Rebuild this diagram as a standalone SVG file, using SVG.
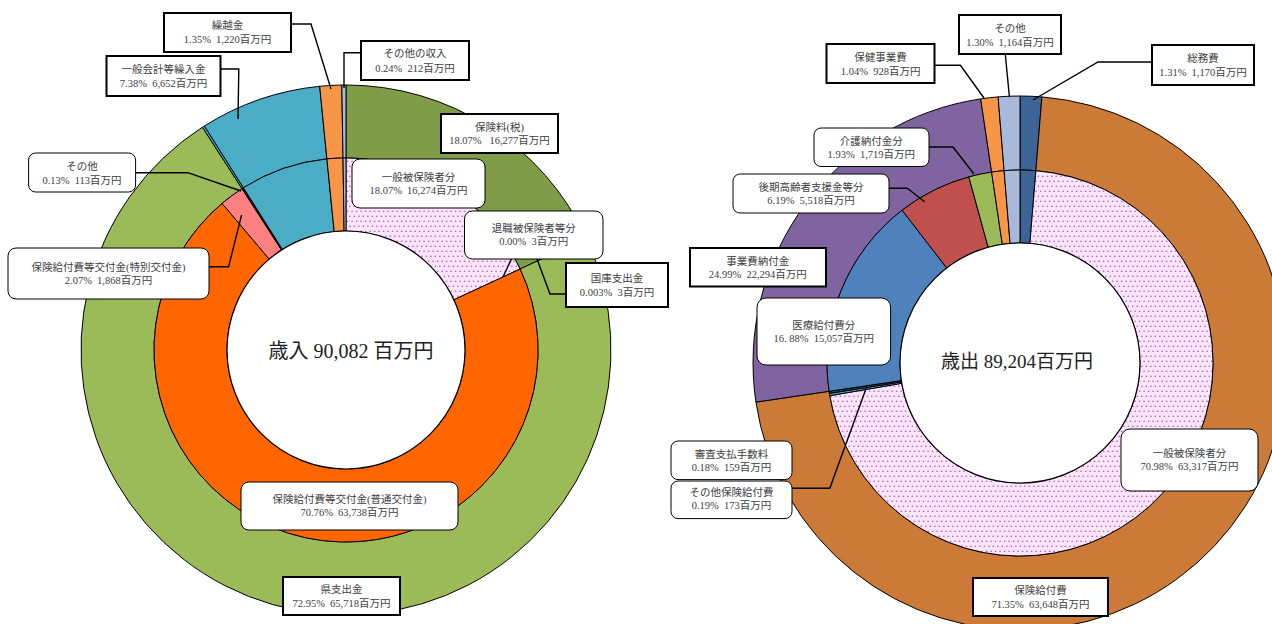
<svg xmlns="http://www.w3.org/2000/svg" width="1272" height="624" viewBox="0 0 1272 624">
<defs>
<pattern id="dots" patternUnits="userSpaceOnUse" width="9" height="10">
<rect width="9" height="10" fill="#FCE4FC"/>
<circle cx="1.1" cy="1.25" r="0.85" fill="#B070B0"/>
<circle cx="5.6" cy="1.25" r="0.85" fill="#B070B0"/>
<circle cx="3.35" cy="6.25" r="0.85" fill="#B070B0"/>
<circle cx="7.85" cy="6.25" r="0.85" fill="#B070B0"/>
</pattern>
<style>
.seg{stroke:#000;stroke-width:1;stroke-linejoin:round}
.hole{fill:#fff;stroke:#000;stroke-width:1.2}
.sq{fill:#fff;stroke:#000;stroke-width:2}
.rd{fill:#fff;stroke:#000;stroke-width:1}
.ld{fill:none;stroke:#000;stroke-width:1.4}
text{font-family:"Liberation Serif","Noto Sans CJK JP",serif;fill:#404040;text-anchor:middle}
.lb{font-size:10.5px}
.ct{font-size:20px;fill:#222}
</style>
</defs>

<g id="revenue-chart">
<g id="rev-outer">
<path class="seg" fill="#7F9C48" d="M346,85 A265,265 0 0 1 586.3,238.2 L520.1,269.0 A192,192 0 0 0 346,158 Z"/>
<path class="seg" fill="#9BBB59" d="M586.3,238.2 A265,265 0 1 1 202.4,127.2 L242.0,188.6 A192,192 0 1 0 520.1,269.0 Z"/>
<path class="seg" fill="#4BACC6" d="M202.4,127.2 A265,265 0 0 1 204.4,126.0 L243.4,187.7 A192,192 0 0 0 242.0,188.6 Z"/>
<path class="seg" fill="#4BACC6" d="M204.4,126.0 A265,265 0 0 1 319.7,86.3 L326.9,158.9 A192,192 0 0 0 243.4,187.7 Z"/>
<path class="seg" fill="#F79646" d="M319.7,86.3 A265,265 0 0 1 341.8,85.0 L343.0,158.0 A192,192 0 0 0 326.9,158.9 Z"/>
<path class="seg" fill="#A9BADB" d="M341.8,85.0 A265,265 0 0 1 346,85 L346,158 A192,192 0 0 0 343.0,158.0 Z"/>
</g>
<g id="rev-inner">
<path class="seg" fill="url(#dots)" d="M346,158 A192,192 0 0 1 520.1,269.0 L453.9,299.8 A119,119 0 0 0 346,231 Z"/>
<path class="seg" fill="#FF6600" d="M520.1,269.0 A192,192 0 1 1 222.1,203.4 L269.2,259.1 A119,119 0 1 0 453.9,299.8 Z"/>
<path class="seg" fill="#FF8080" d="M222.1,203.4 A192,192 0 0 1 242.0,188.6 L281.5,250.0 A119,119 0 0 0 269.2,259.1 Z"/>
<path class="seg" fill="#111" d="M242.0,188.6 A192,192 0 0 1 243.4,187.7 L282.4,249.4 A119,119 0 0 0 281.5,250.0 Z"/>
<path class="seg" fill="#4BACC6" d="M243.4,187.7 A192,192 0 0 1 326.9,158.9 L334.2,231.6 A119,119 0 0 0 282.4,249.4 Z"/>
<path class="seg" fill="#F79646" d="M326.9,158.9 A192,192 0 0 1 343.0,158.0 L344.1,231.0 A119,119 0 0 0 334.2,231.6 Z"/>
<path class="seg" fill="#A9BADB" d="M343.0,158.0 A192,192 0 0 1 346,158 L346,231 A119,119 0 0 0 344.1,231.0 Z"/>
</g>
<circle class="hole" cx="346" cy="350" r="119"/>
<text class="ct" x="351" y="357.5">歳入 90,082 百万円</text>
</g>

<g id="expense-chart">
<g id="exp-outer">
<path class="seg" fill="#3C6496" d="M1020,96 A267,267 0 0 1 1041.9,96.9 L1035.9,170.7 A193,193 0 0 0 1020,170 Z"/>
<path class="seg" fill="#CC7A37" d="M1041.9,96.9 A267,267 0 1 1 755.9,402.1 L829.1,391.3 A193,193 0 1 0 1035.9,170.7 Z"/>
<path class="seg" fill="#8064A2" d="M755.9,402.1 A267,267 0 0 1 980.7,98.9 L991.6,172.1 A193,193 0 0 0 829.1,391.3 Z"/>
<path class="seg" fill="#F79646" d="M980.7,98.9 A267,267 0 0 1 998.1,96.9 L1004.1,170.7 A193,193 0 0 0 991.6,172.1 Z"/>
<path class="seg" fill="#A9B9DA" d="M998.1,96.9 A267,267 0 0 1 1020,96 L1020,170 A193,193 0 0 0 1004.1,170.7 Z"/>
</g>
<g id="exp-inner">
<path class="seg" fill="#3C6496" d="M1020,170 A193,193 0 0 1 1035.9,170.7 L1029.9,243.4 A120,120 0 0 0 1020,243 Z"/>
<path class="seg" fill="url(#dots)" d="M1035.9,170.7 A193,193 0 1 1 829.8,395.7 L901.7,383.3 A120,120 0 1 0 1029.9,243.4 Z"/>
<path class="seg" fill="#4BACC6" d="M829.8,395.7 A193,193 0 0 1 829.4,393.4 L901.5,381.9 A120,120 0 0 0 901.7,383.3 Z"/>
<path class="seg" fill="#1F497D" d="M829.4,393.4 A193,193 0 0 1 829.1,391.3 L901.3,380.6 A120,120 0 0 0 901.5,381.9 Z"/>
<path class="seg" fill="#4F81BD" d="M829.1,391.3 A193,193 0 0 1 902.1,210.2 L946.7,268.0 A120,120 0 0 0 901.3,380.6 Z"/>
<path class="seg" fill="#C0504D" d="M902.1,210.2 A193,193 0 0 1 968.8,176.9 L988.2,247.3 A120,120 0 0 0 946.7,268.0 Z"/>
<path class="seg" fill="#9BBB59" d="M968.8,176.9 A193,193 0 0 1 991.6,172.1 L1002.3,244.3 A120,120 0 0 0 988.2,247.3 Z"/>
<path class="seg" fill="#F79646" d="M991.6,172.1 A193,193 0 0 1 1004.1,170.7 L1010.1,243.4 A120,120 0 0 0 1002.3,244.3 Z"/>
<path class="seg" fill="#A9B9DA" d="M1004.1,170.7 A193,193 0 0 1 1020,170 L1020,243 A120,120 0 0 0 1010.1,243.4 Z"/>
</g>
<circle class="hole" cx="1020" cy="363" r="120"/>
<text class="ct" x="1017" y="368" style="font-size:19px">歳出 89,204百万円</text>
</g>

<g id="connectors">
<polyline class="ld" points="291,24 311,24 331,89"/>
<polyline class="ld" points="361,52.7 344,52.7 344,88"/>
<polyline class="ld" points="220.8,69 238.8,69 238,119"/>
<polyline class="ld" points="135.5,172.7 187.8,172.7 241,191"/>
<polyline class="ld" points="512,258 503,277"/>
<polyline class="ld" points="566,294 550,294 537,259"/>
<polyline class="ld" points="209,266.7 228.6,266.7 241.6,215"/>
<polyline class="ld" points="934.7,65.3 960.4,65.3 984,98"/>
<polyline class="ld" points="1005.3,54.3 1009.4,96.7"/>
<polyline class="ld" points="1152,62 1098,62 1033,100"/>
<polyline class="ld" points="928.6,147 953,147 974,174"/>
<polyline class="ld" points="889,188.3 907.3,188.3 924.5,201.7"/>
<polyline class="ld" points="792,488.3 829.8,488.3 867,386"/>
</g>

<g id="lbl-kurikoshi"><rect class="sq" x="164" y="13" width="127" height="39"/><text class="lb" x="227.5" y="28.7">繰越金</text><text class="lb" x="227.5" y="42.7">1.35%&#160; 1,220百万円</text></g>
<g id="lbl-sonota-shunyu"><rect class="sq" x="361" y="41" width="108" height="39"/><text class="lb" x="415" y="57">その他の収入</text><text class="lb" x="415" y="71.5">0.24%&#160; 212百万円</text></g>
<g id="lbl-ippankaikei"><rect class="sq" x="106.5" y="56" width="114" height="40"/><text class="lb" x="163.6" y="72.5">一般会計等繰入金</text><text class="lb" x="163.6" y="86.5">7.38%&#160; 6,652百万円</text></g>
<g id="lbl-hokenryo"><rect class="sq" x="441" y="114" width="117" height="39"/><text class="lb" x="499.5" y="131.4">保険料(税)</text><text class="lb" x="499.5" y="144.4">18.07%&#160;&#160; 16,277百万円</text></g>
<g id="lbl-sonota-l"><rect class="rd" x="28.6" y="153" width="107" height="39" rx="7"/><text class="lb" x="82" y="170.4">その他</text><text class="lb" x="82" y="183.7">0.13%&#160; 113百万円</text></g>
<g id="lbl-ippanhiho-l"><rect class="rd" x="352" y="159" width="133" height="49" rx="8"/><text class="lb" x="418.5" y="181.4">一般被保険者分</text><text class="lb" x="418.5" y="194.4">18.07%&#160; 16,274百万円</text></g>
<g id="lbl-taishoku"><rect class="rd" x="464.5" y="211" width="138.5" height="48" rx="8"/><text class="lb" x="533.7" y="232.4">退職被保険者等分</text><text class="lb" x="533.7" y="245">0.00%&#160; 3百万円</text></g>
<g id="lbl-kokko"><rect class="sq" x="566" y="263" width="102" height="44"/><text class="lb" x="617" y="282.4">国庫支出金</text><text class="lb" x="617" y="296.4">0.003%&#160; 3百万円</text></g>
<g id="lbl-tokubetsu"><rect class="rd" x="8" y="248" width="201" height="51" rx="8"/><text class="lb" x="108.5" y="271.4">保険給付費等交付金(特別交付金)</text><text class="lb" x="108.5" y="284.4">2.07%&#160; 1,868百万円</text></g>
<g id="lbl-futsu"><rect class="rd" x="241" y="482" width="217" height="48" rx="8"/><text class="lb" x="349.5" y="503">保険給付費等交付金(普通交付金)</text><text class="lb" x="349.5" y="516">70.76%&#160; 63,738百万円</text></g>
<g id="lbl-ken"><rect class="sq" x="283" y="577" width="117" height="38"/><text class="lb" x="341.5" y="593">県支出金</text><text class="lb" x="341.5" y="607">72.95%&#160; 65,718百万円</text></g>

<g id="lbl-hokenjigyo"><rect class="sq" x="826.5" y="44" width="108" height="39"/><text class="lb" x="880.6" y="61">保健事業費</text><text class="lb" x="880.6" y="74.7">1.04%&#160; 928百万円</text></g>
<g id="lbl-sonota-r"><rect class="sq" x="959" y="15" width="102" height="39"/><text class="lb" x="1010" y="32">その他</text><text class="lb" x="1010" y="46">1.30%&#160; 1,164百万円</text></g>
<g id="lbl-somu"><rect class="sq" x="1152" y="45" width="102" height="40"/><text class="lb" x="1203" y="62">総務費</text><text class="lb" x="1203" y="76">1.31%&#160; 1,170百万円</text></g>
<g id="lbl-kaigo"><rect class="rd" x="814" y="128" width="115" height="38.5" rx="7"/><text class="lb" x="871.3" y="145">介護納付金分</text><text class="lb" x="871.3" y="158">1.93%&#160; 1,719百万円</text></g>
<g id="lbl-koki"><rect class="rd" x="733" y="174" width="156" height="39" rx="7"/><text class="lb" x="811" y="191">後期高齢者支援金等分</text><text class="lb" x="811" y="204">6.19%&#160; 5,518百万円</text></g>
<g id="lbl-jigyohi"><rect class="sq" x="690" y="248" width="136" height="38.5"/><text class="lb" x="757.8" y="264.7">事業費納付金</text><text class="lb" x="757.8" y="278">24.99%&#160; 22,294百万円</text></g>
<g id="lbl-iryo"><rect class="rd" x="757" y="298" width="133.6" height="67" rx="9"/><text class="lb" x="823.8" y="328.7">医療給付費分</text><text class="lb" x="823.8" y="342">16. 88%&#160; 15,057百万円</text></g>
<g id="lbl-ippanhiho-r"><rect class="rd" x="1121" y="429" width="137" height="62" rx="9"/><text class="lb" x="1189.4" y="457">一般被保険者分</text><text class="lb" x="1189.4" y="470">70.98%&#160; 63,317百万円</text></g>
<g id="lbl-shinsa"><rect class="rd" x="671" y="441" width="121" height="38.6" rx="7"/><text class="lb" x="731.5" y="458">審査支払手数料</text><text class="lb" x="731.5" y="471">0.18%&#160; 159百万円</text></g>
<g id="lbl-sonota-hoken"><rect class="rd" x="671" y="481" width="121" height="37.6" rx="7"/><text class="lb" x="731.5" y="496.4">その他保険給付費</text><text class="lb" x="731.5" y="509">0.19%&#160; 173百万円</text></g>
<g id="lbl-hokenkyufu"><rect class="sq" x="973" y="578" width="135" height="38"/><text class="lb" x="1040.4" y="593.7">保険給付費</text><text class="lb" x="1040.4" y="608">71.35%&#160; 63,648百万円</text></g>
</svg>
